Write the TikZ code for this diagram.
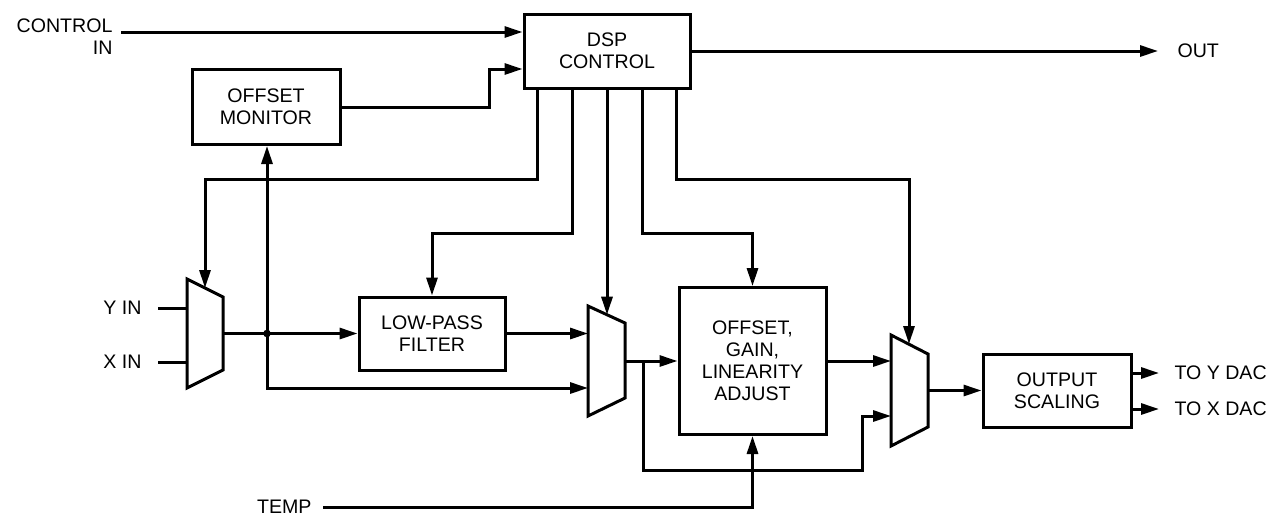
\documentclass[tikz,border=0pt]{standalone}
\usepackage{fontspec}
\setmainfont{Liberation Sans}
\usetikzlibrary{arrows.meta,positioning}

\begin{document}
\begin{tikzpicture}[x=0.5pt,y=-0.5pt,line width=1.5pt,>={Triangle[length=9pt,width=5.5pt]},
    every node/.style={font=\fontsize{9.8}{11}\selectfont,align=center,inner sep=0pt},
    block/.style={draw,rectangle}]
\useasboundingbox (0,0) rectangle (1279,516);

% blocks
\node[block,minimum width=83pt,minimum height=37pt] (dsp) at (607,51) {DSP\\CONTROL};
\node[block,minimum width=74pt,minimum height=37.5pt] (offmon) at (266,107) {OFFSET\\MONITOR};
\node[block,minimum width=73pt,minimum height=36.5pt] (lpf) at (432,333.5) {LOW-PASS\\FILTER};
\node[block,minimum width=73.5pt,minimum height=73.5pt] (ogl) at (752.5,361) {OFFSET,\\GAIN,\\LINEARITY\\ADJUST};
\node[block,minimum width=74pt,minimum height=36.5pt] (outsc) at (1057,390.5) {OUTPUT\\SCALING};

% multiplexers
\draw (187,279) -- (223,297) -- (223,370) -- (187,388) -- cycle;
\coordinate (m1y) at (187,308);
\coordinate (m1x) at (187,362);
\coordinate (m1out) at (223,333.5);
\coordinate (m1sel) at (205,288);
\draw (588,306) -- (625,323) -- (625,398) -- (588,416) -- cycle;
\coordinate (m2a) at (588,333.5);
\coordinate (m2b) at (588,388);
\coordinate (m2out) at (625,361);
\coordinate (m2sel) at (607,314.7);
\draw (891,335) -- (928,354) -- (928,427) -- (891,446) -- cycle;
\coordinate (m3a) at (891,361);
\coordinate (m3b) at (891,416);
\coordinate (m3out) at (928,390.5);
\coordinate (m3sel) at (909,344);

% inputs and outputs
\coordinate (ctlsrc) at (121,32);
\node[anchor=east,align=right] (ctlin) at (114,36.5) {CONTROL\\IN};
\coordinate (yin) at (158,308);
\node[left=7.5pt of yin] (yinlbl) {Y IN};
\coordinate (xin) at (158,362);
\node[left=7.5pt of xin] (xinlbl) {X IN};
\coordinate (tempsrc) at (323,507);
\node[left=5pt of tempsrc] (templbl) {TEMP};
\coordinate (outend) at (1158,51);
\node[right=9pt of outend] (outlbl) {OUT};
\coordinate (ydac) at (1159,373);
\node[right=7pt of ydac] (ydaclbl) {TO Y DAC};
\coordinate (xdac) at (1159,409);
\node[right=7pt of xdac] (xdaclbl) {TO X DAC};
\coordinate (jct) at (267,333.5);
\coordinate (fb) at (643,361);

% control paths
\draw[->] (ctlsrc) -- (ctlsrc -| dsp.west);
\draw[->] (offmon.east) -- (489,107) |- ([yshift=-9pt]dsp.west);
\draw[->] (dsp.east) -- (outend);
\draw[->] ([xshift=-35pt]dsp.south) |- (205,179) -- (m1sel);
\draw[->] ([xshift=-17.5pt]dsp.south) |- (432,233) -- (lpf.north);
\draw[->] (dsp.south) -- (m2sel);
\draw[->] ([xshift=17.5pt]dsp.south) |- (752.5,233) -- (ogl.north);
\draw[->] ([xshift=34.5pt]dsp.south) |- (909,179) -- (m3sel);

% signal paths
\draw (yin) -- (m1y);
\draw (xin) -- (m1x);
\draw[->] (m1out) -- (lpf.west);
\fill (jct) circle[radius=1.9pt];
\draw[->] (jct) -- (jct |- offmon.south);
\draw[->] (jct) |- (m2b);
\draw[->] (lpf.east) -- (m2a);
\draw[->] (m2out) -- (ogl.west);
\draw[->] (fb) |- (862,470) |- (m3b);
\draw[->] (ogl.east) -- (m3a);
\draw[->] (tempsrc) -| (ogl.south);
\draw[->] (m3out) -- (outsc.west);
\draw[->] (outsc.east |- ydac) -- (ydac);
\draw[->] (outsc.east |- xdac) -- (xdac);
\end{tikzpicture}
\end{document}
